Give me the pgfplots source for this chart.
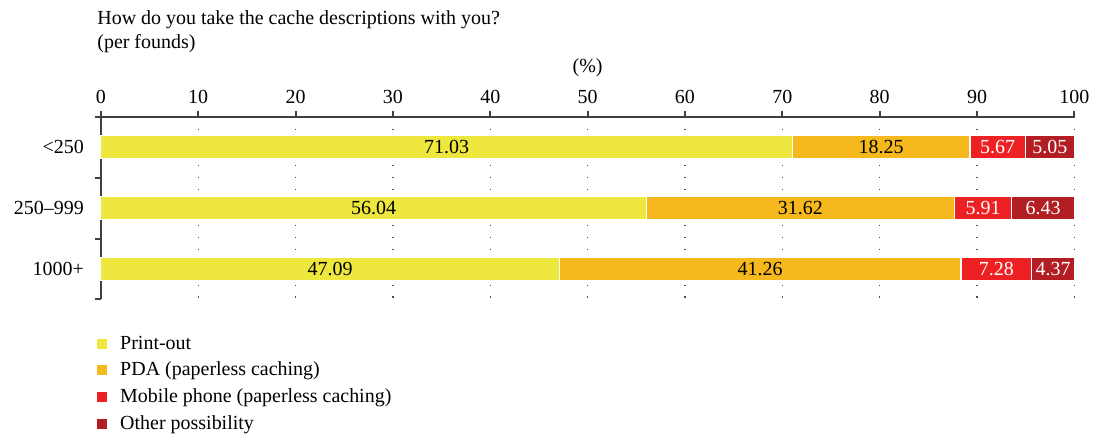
\documentclass[border=0pt]{standalone}
\usepackage{fontspec}
\setmainfont{Liberation Serif}
\usepackage{pgfplots}
\usepackage{pgfplotstable}
\pgfplotsset{compat=1.18}
\definecolor{cY}{HTML}{EEE83E}
\definecolor{cO}{HTML}{F5B91E}
\definecolor{cR}{HTML}{ED2024}
\definecolor{cD}{HTML}{B21E24}
\definecolor{axc}{HTML}{404040}
\pgfplotstableread{
cat a b c d
0 71.03 18.25 5.67 5.05
1 56.04 31.62 5.91 6.43
2 47.09 41.26 7.28 4.37
}\data
\begin{document}
\begin{tikzpicture}
\begin{axis}[
  scale only axis, width=487.5pt, height=91.5pt,
  xmin=0, xmax=100, ymin=-0.5, ymax=2.5, y dir=reverse,
  clip=false,
  axis x line*=top, axis y line*=left,
  axis line style={line width=1pt, color=axc},
  every tick/.style={line width=1pt, color=axc},
  major tick length=3pt, tick align=outside,
  xtick={0,10,...,100}, xticklabel pos=top,
  ytick={-0.5,0.5,1.5,2.5},
  y tick label as interval,
  yticklabels={{<250},{250--999},{1000+}},
  yticklabel style={xshift=-2pt},
  /pgf/number format/assume math mode=true,
  xmajorgrids,
  major grid style={color=black!70, line width=0.6pt, dash pattern=on 0.6pt off 5.4pt},
  mybar/.style={xbar stacked, bar width=11.5pt, draw=white, line width=0.6pt,
    legend image code/.code={\fill[##1, draw=none] (0pt,-2.5pt) rectangle (5pt,2.5pt);}},
  lab/.style={only marks, mark=none, nodes near coords, point meta=explicit symbolic, forget plot,
    every node near coord/.append style={anchor=center, font=\normalsize}},
  legend style={at={(axis description cs:0,0)}, anchor=north west, xshift=-5pt, yshift=-14pt,
    draw=none, fill=none, legend cell align=left, row sep=1pt, column sep=4.5pt,
    nodes={inner sep=2pt}},
]
\addplot[mybar, fill=cY] table[x=a, y=cat] {\data};
\addplot[mybar, fill=cO] table[x=b, y=cat] {\data};
\addplot[mybar, fill=cR] table[x=c, y=cat] {\data};
\addplot[mybar, fill=cD] table[x=d, y=cat] {\data};
\legend{Print-out, PDA (paperless caching), Mobile phone (paperless caching), Other possibility}
\addplot[lab, every node near coord/.append style={text=black}] table[x expr=\thisrow{a}/2, y=cat, meta=a] {\data};
\addplot[lab, every node near coord/.append style={text=black}] table[x expr=\thisrow{a}+\thisrow{b}/2, y=cat, meta=b] {\data};
\addplot[lab, every node near coord/.append style={text=white}] table[x expr=\thisrow{a}+\thisrow{b}+\thisrow{c}/2, y=cat, meta=c] {\data};
\addplot[lab, every node near coord/.append style={text=white}] table[x expr=\thisrow{a}+\thisrow{b}+\thisrow{c}+\thisrow{d}/2, y=cat, meta=d] {\data};
\node[anchor=north west, align=left, inner sep=0pt] at (axis description cs:-0.004,1.585)
  {How do you take the cache descriptions with you?\\(per founds)};
\node at (axis description cs:0.5,1.268) {(\%)};
\coordinate (bl) at (axis description cs:-0.1036,-0.743);
\coordinate (tr) at (axis description cs:1.0205,1.639);
\end{axis}
\useasboundingbox (bl) rectangle (tr);
\end{tikzpicture}
\end{document}
